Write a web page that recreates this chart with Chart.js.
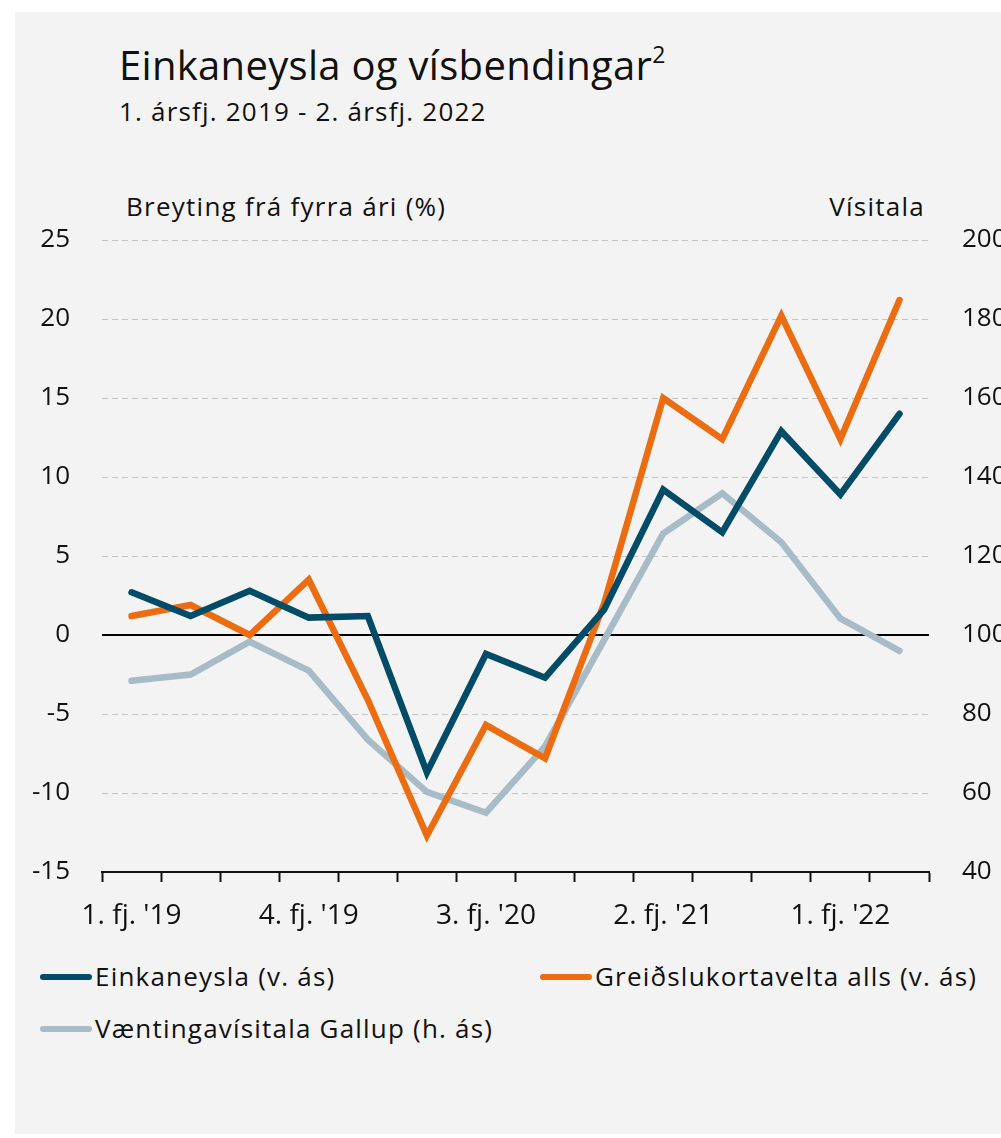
<!DOCTYPE html>
<html>
<head>
<meta charset="utf-8">
<script src="https://cdn.jsdelivr.net/npm/chart.js@4"></script>
<style>
  html, body { margin: 0; padding: 0; background: #fff; }
  body { width: 1001px; height: 1138px; position: relative; overflow: hidden; font-family: "Open Sans", Lato, sans-serif; color: #111; }
  #panel { position: absolute; left: 15px; top: 12px; width: 986px; height: 1122px; background: #f3f3f3; }
  .txt { position: absolute; white-space: nowrap; line-height: 1.2; }
  #title { left: 119px; top: 41px; font-size: 40px; letter-spacing: 0.3px; }
  #title sup { font-size: 23px; vertical-align: 17px; line-height: 0; }
  #subtitle { left: 119px; top: 96px; font-size: 26px; letter-spacing: 1.2px; }
  #ltitle { left: 126px; top: 191px; font-size: 26px; letter-spacing: 1.25px; }
  #rtitle { right: 76px; top: 191px; font-size: 26px; letter-spacing: 1.25px; }
  #chart { position: absolute; left: 0; top: 0; }
  .leg { position: absolute; font-size: 26px; line-height: 1.2; letter-spacing: 1.2px; display: flex; align-items: center; white-space: nowrap; }
  .leg span.sw { display: inline-block; width: 52px; height: 6px; border-radius: 3px; margin-right: 3px; }
</style>
</head>
<body>
<div id="panel"></div>
<div class="txt" id="title">Einkaneysla og vísbendingar<sup>2</sup></div>
<div class="txt" id="subtitle">1. ársfj. 2019 - 2. ársfj. 2022</div>
<div class="txt" id="ltitle">Breyting frá fyrra ári (%)</div>
<div class="txt" id="rtitle">Vísitala</div>
<canvas id="chart" width="1001" height="950"></canvas>
<div class="leg" style="left:40px; top:961px;"><span class="sw" style="background:#004b66"></span>Einkaneysla (v. ás)</div>
<div class="leg" style="left:540px; top:961px;"><span class="sw" style="background:#ec6c12"></span>Greiðslukortavelta alls (v. ás)</div>
<div class="leg" style="left:40px; top:1013px;"><span class="sw" style="background:#a8bcc8"></span>Væntingavísitala Gallup (h. ás)</div>
<script>
const quarters = [
  "1. fj. '19", "2. fj. '19", "3. fj. '19", "4. fj. '19",
  "1. fj. '20", "2. fj. '20", "3. fj. '20", "4. fj. '20",
  "1. fj. '21", "2. fj. '21", "3. fj. '21", "4. fj. '21",
  "1. fj. '22", "2. fj. '22"
];
const einkaneysla = [2.7, 1.2, 2.8, 1.1, 1.2, -8.7, -1.2, -2.7, 1.6, 9.2, 6.5, 12.9, 8.9, 14.0];
const kortavelta = [1.2, 1.9, 0.0, 3.5, -4.1, -12.7, -5.7, -7.8, 2.0, 15.0, 12.4, 20.2, 12.4, 21.2];
const vaentingavisitala = [88.4, 90.0, 98.3, 91.0, 73.5, 60.3, 55.0, 71.8, 98.7, 125.7, 135.9, 123.5, 104.2, 96.0];

const family = '"Open Sans", Lato, sans-serif';

function line(label, data, color, axis, order) {
  return {
    label, data, yAxisID: axis, order,
    borderColor: color, backgroundColor: color,
    borderWidth: 6.5, pointRadius: 0, tension: 0,
    borderCapStyle: 'round', borderJoinStyle: 'miter'
  };
}

new Chart(document.getElementById('chart'), {
  type: 'line',
  data: {
    labels: quarters,
    datasets: [
      line('Einkaneysla (v. ás)', einkaneysla, '#004b66', 'y', 1),
      line('Greiðslukortavelta alls (v. ás)', kortavelta, '#ec6c12', 'y', 2),
      line('Væntingavísitala Gallup (h. ás)', vaentingavisitala, '#a8bcc8', 'y1', 3)
    ]
  },
  options: {
    responsive: false,
    animation: false,
    layout: { padding: { top: 240, left: 0, right: 0, bottom: 0 } },
    plugins: { legend: { display: false }, tooltip: { enabled: false } },
    scales: {
      x: {
        offset: true,
        afterFit: s => { s.height = 78; },
        grid: { offset: true, drawOnChartArea: false, drawTicks: true, tickLength: 10, tickColor: '#111', tickWidth: 2 },
        border: { display: true, color: '#111', width: 2 },
        ticks: {
          autoSkip: false, maxRotation: 0, padding: 17, color: '#111',
          font: { family, size: 28 },
          callback: (v, i) => i % 3 === 0 ? quarters[i] : ''
        }
      },
      y: {
        position: 'left', min: -15, max: 25,
        afterFit: s => { s.width = 102; },
        border: { display: false, dash: c => (c.tick && c.tick.value === 0) ? [] : [6, 4] },
        grid: {
          drawTicks: false,
          color: c => c.tick.value === 0 ? '#000' : (c.tick.value === -15 ? 'rgba(0,0,0,0)' : '#c4c4c4'),
          lineWidth: c => c.tick.value === 0 ? 2 : 1
        },
        ticks: { stepSize: 5, padding: 32, color: '#111', font: { family, size: 26 } }
      },
      y1: {
        position: 'right', min: 40, max: 200,
        afterFit: s => { s.width = 72; },
        border: { display: false },
        grid: { drawOnChartArea: false, drawTicks: false },
        ticks: { stepSize: 20, padding: 33, color: '#111', font: { family, size: 26 } }
      }
    }
  }
});
</script>
</body>
</html>
